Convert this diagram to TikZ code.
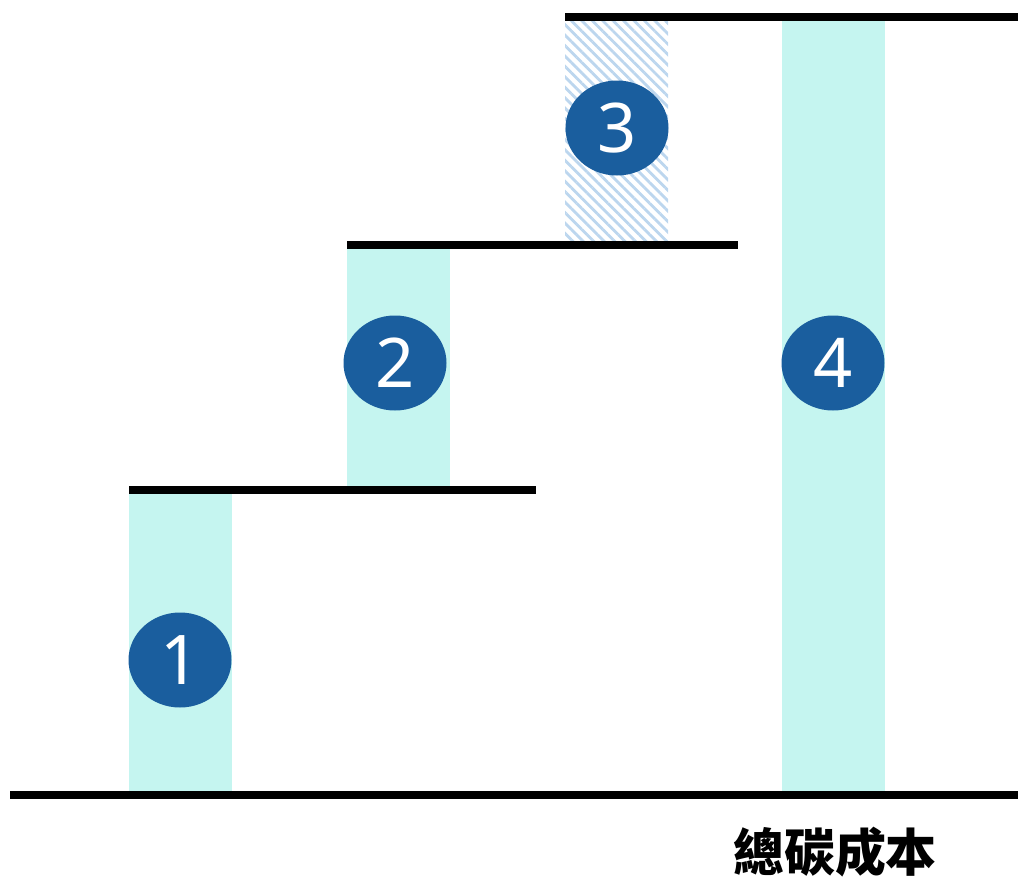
\documentclass[tikz,border=0pt]{standalone}
\usepackage{fontspec}
\setmainfont{Noto Sans}
\newfontfamily\cjk{Noto Sans CJK TC}
\usetikzlibrary{shapes.geometric,patterns.meta}
\definecolor{barcyan}{HTML}{C5F5F0}
\definecolor{hatchblue}{HTML}{BCD6EE}
\definecolor{dotblue}{HTML}{1A5E9E}
\tikzset{
  level/.style={line width=4.6pt},
  bar/.style={fill=barcyan},
  num/.style={ellipse,fill=dotblue,text=white,minimum width=103\unit,minimum height=95\unit,inner sep=0pt,font=\fontsize{39}{39}\selectfont}
}
\newlength{\unit}
\setlength{\unit}{0.02cm}
\begin{document}
\begin{tikzpicture}[x=0.02cm,y=-0.02cm]
\useasboundingbox (0,0) rectangle (1018,879);
%\draw[help lines, color=gray!30, dashed] (0,0) grid[step=100] (1018,879);
\fill[bar] (129,492) rectangle (232,793);
\fill[bar] (347,247) rectangle (450,488);
\fill[pattern={Lines[angle=-45,distance=4.2pt,line width=1.6pt]},pattern color=hatchblue] (565,19) rectangle (668,243);
\fill[bar] (782,19) rectangle (885,793);
\draw[level] (10,795)--(1018,795);
\draw[level] (129,490)--(536,490);
\draw[level] (347,245)--(738,245);
\draw[level] (565,17)--(1018,17);
\node[num] (one) at (180,660) {1};
\node[num] (two) at (395,363) {2};
\node[num] (three) at (617,128) {3};
\node[num] (four) at (833,363) {4};
\node[font=\cjk\bfseries\fontsize{29}{29}\selectfont] (total) at (835,852) {總碳成本};
\end{tikzpicture}
\end{document}
